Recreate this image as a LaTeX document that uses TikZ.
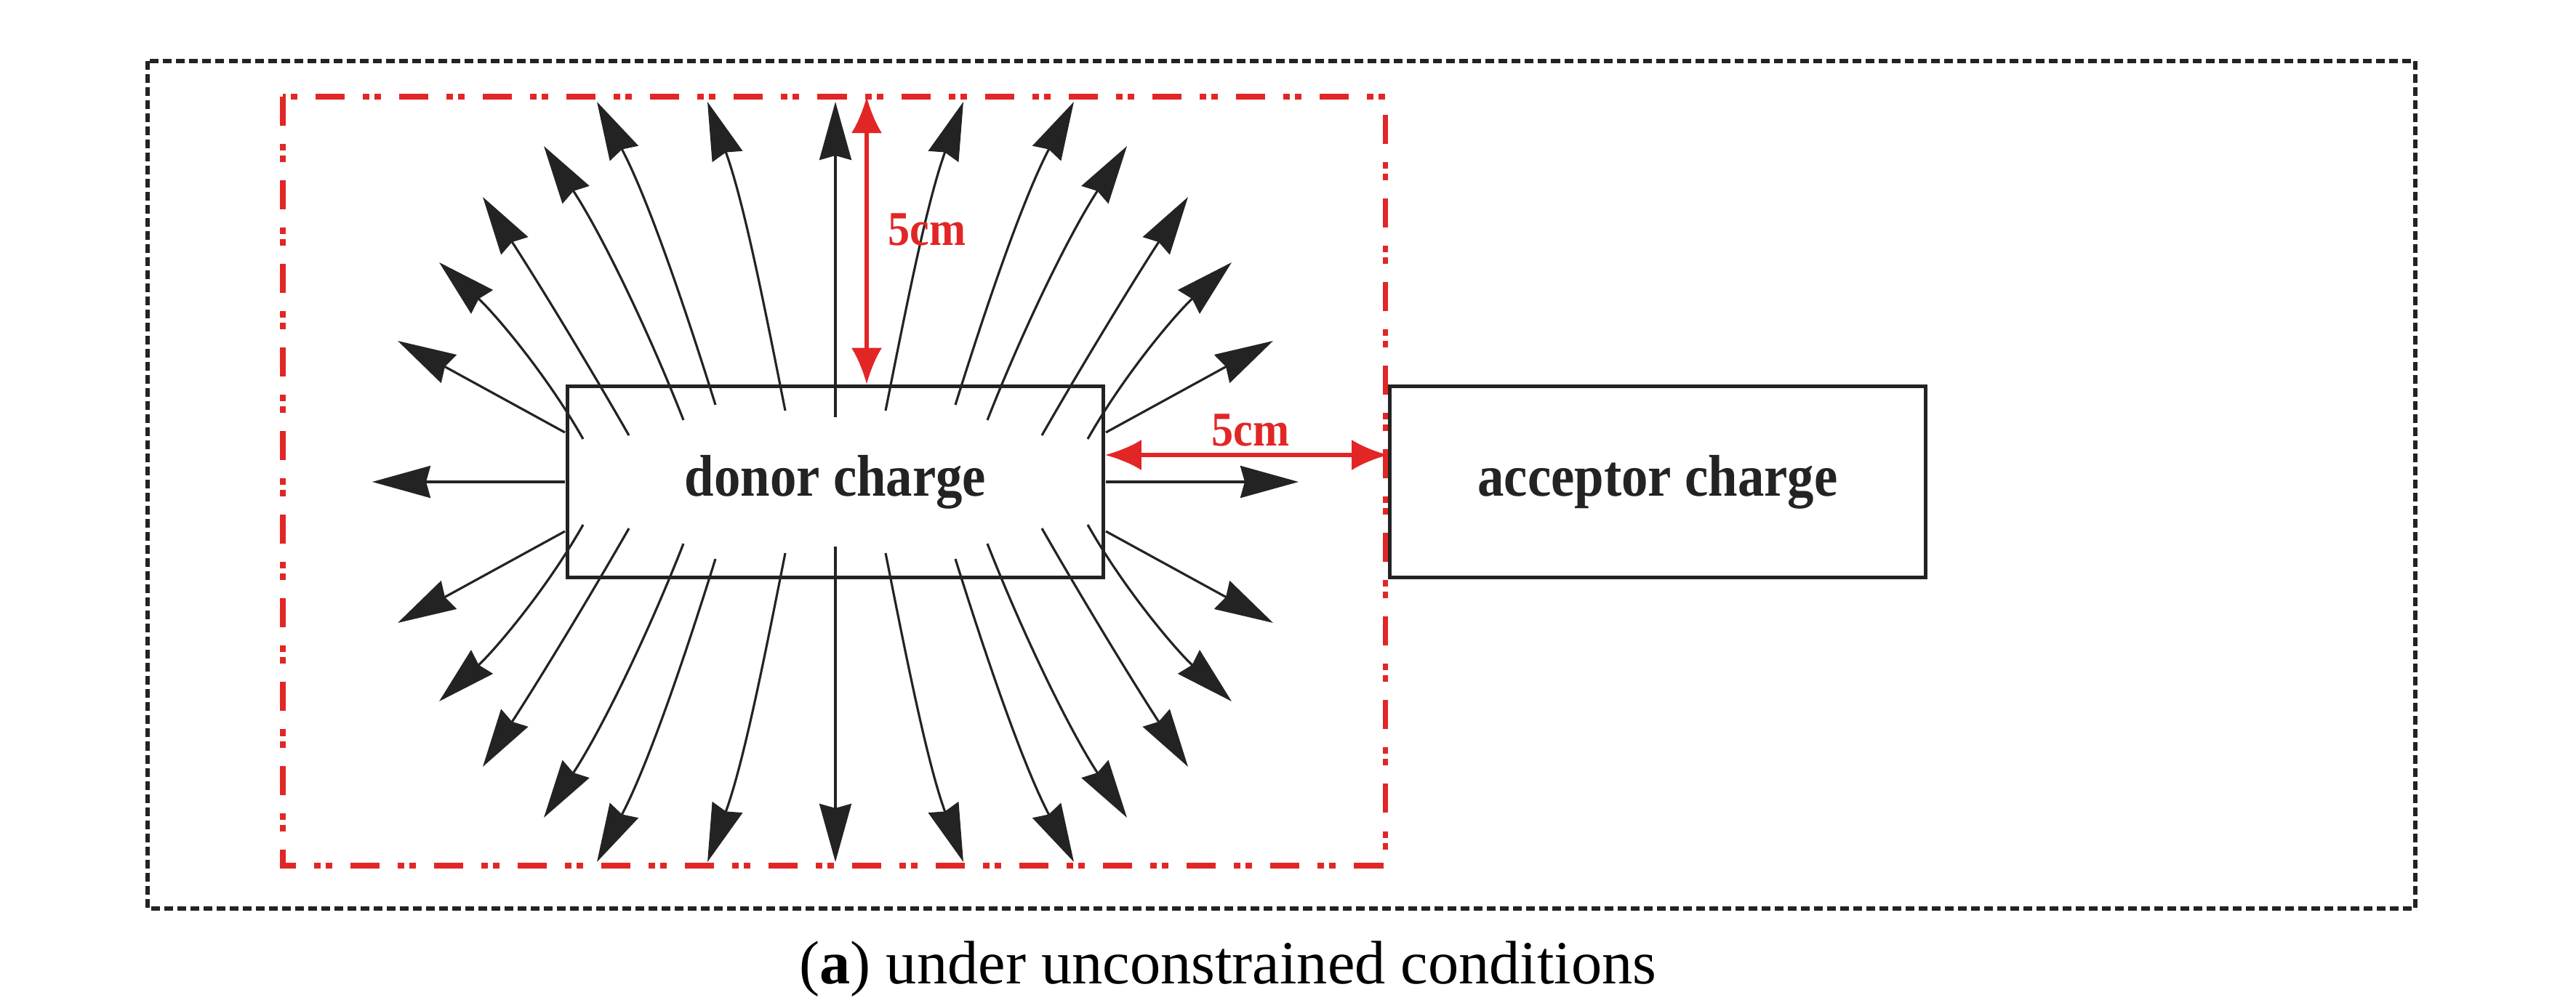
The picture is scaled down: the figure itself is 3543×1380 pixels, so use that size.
\documentclass[tikz,border=0pt]{standalone}
\usepackage{fontspec}
\setmainfont{Liberation Serif}
\usetikzlibrary{arrows.meta}
\definecolor{dred}{RGB}{226,38,38}
\definecolor{dark}{RGB}{35,35,35}
\begin{document}
\begin{tikzpicture}[x=0.01cm,y=-0.01cm,
  fl/.style={draw=dark,line width=0.9pt,-{Stealth[length=0.8cm,width=0.44cm,inset=0.06cm]}},
  box/.style={draw=dark,line width=1.5pt,minimum width=7.36cm,minimum height=2.63cm,inner sep=0pt},
  lab/.style={font=\bfseries\fontsize{23}{23}\selectfont,text=dark,xscale=0.9},
  dim/.style={draw=dred,line width=1.5pt,{Latex[length=0.5cm,width=0.42cm]}-{Latex[length=0.5cm,width=0.42cm]}},
  rl/.style={font=\bfseries\fontsize{19}{19}\selectfont,text=dred,xscale=0.9}]
\useasboundingbox (0,0) rectangle (3543,1380);
\draw[dark,line width=1.7pt,dash pattern=on 0.12cm off 0.06cm] (203,84) rectangle (3322,1250);
\draw[dred,line width=2pt,dash pattern=on 0.4cm off 0.25cm on 0.09cm off 0.07cm on 0.09cm off 0.25cm] (389,133) rectangle (1905,1191);
% field lines
\begin{scope}[shift={(1149,663)},yscale=-1]
\foreach \sx/\sy in {1/1,-1/1,1/-1,-1/-1}{
\begin{scope}[xscale=\sx,yscale=\sy]
\draw[fl] (-69,98) .. controls (-97,239) and (-126,386) .. (-176,523);
\draw[fl] (-165,106) .. controls (-209,247) and (-259,392) .. (-328,523);
\draw[fl] (-209,85) .. controls (-260,215) and (-324,345) .. (-401,462);
\draw[fl] (-284,64) .. controls (-347,174) and (-416,286) .. (-485,392);
\draw[fl] (-347,59) .. controls (-398,149) and (-469,232) .. (-545,302);
\draw[fl] (-372,68) -- (-602,194);
\end{scope}}
\draw[fl] (0,89) -- (0,523);
\draw[fl] (0,-89) -- (0,-523);
\draw[fl] (-372,0) -- (-637,0);
\draw[fl] (372,0) -- (637,0);
\end{scope}
\node[box] (donor) at (1149,663) {};
\node[lab] at (donor) {donor charge};
\node[box] (acc) at (2280,663) {};
\node[lab] at (acc) {acceptor charge};
\coordinate (top) at (1192,133);
\draw[dim] (top) -- (donor.north -| top);
\node[rl] at (1275,316) {5cm};
\coordinate (hy) at (1520,626);
\draw[dim] (donor.east |- hy) -- (acc.west |- hy);
\node[rl] at (1720,592) {5cm};
\node[font=\fontsize{24}{24}\selectfont] at (1689,1333) {(\textbf{a}) under unconstrained conditions};
\end{tikzpicture}
\end{document}
